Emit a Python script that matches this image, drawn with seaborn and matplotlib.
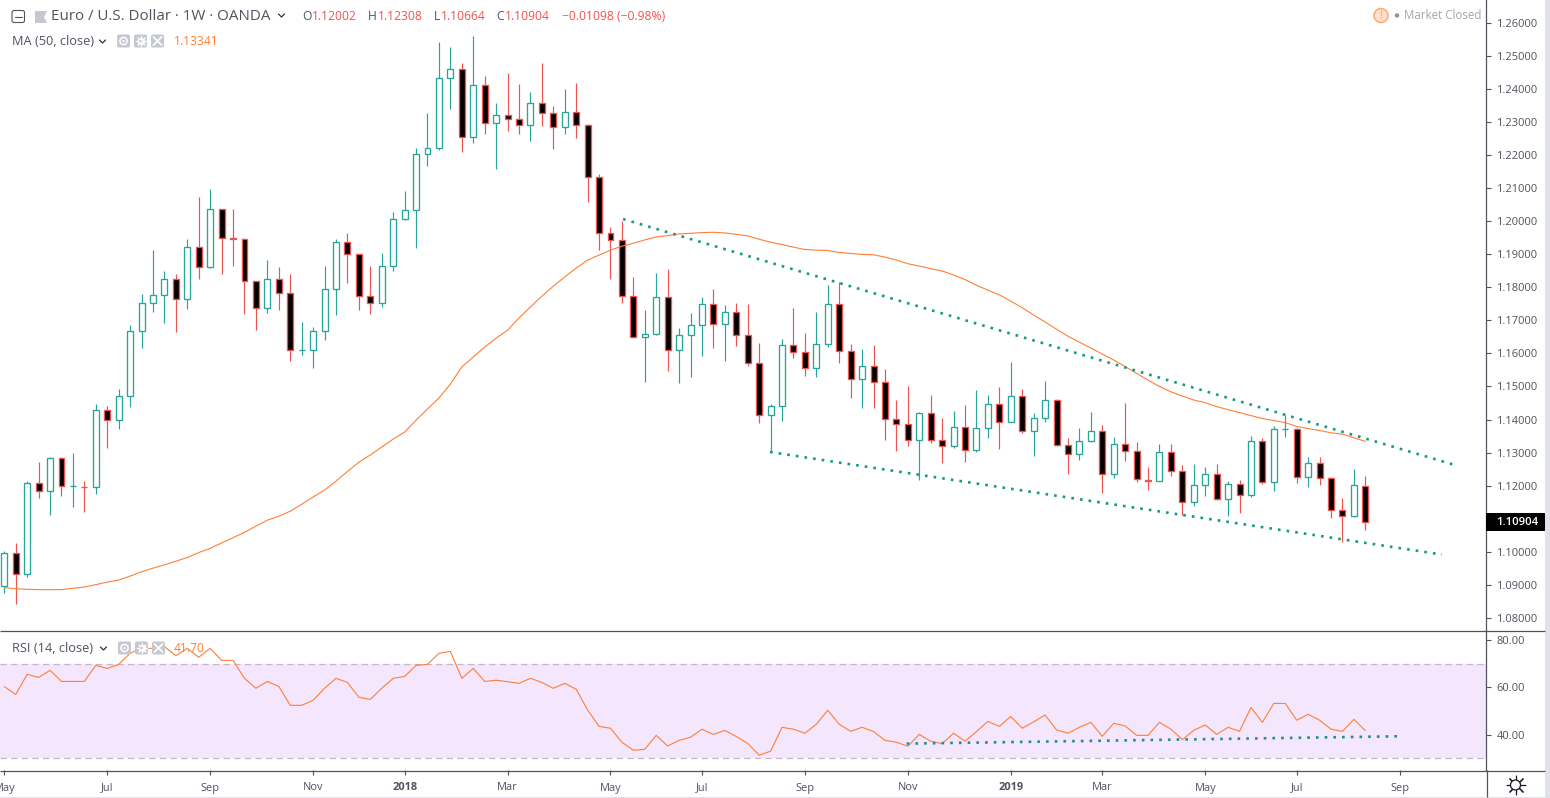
import matplotlib
matplotlib.use("Agg")
import matplotlib.pyplot as plt
from matplotlib.patches import Rectangle, FancyBboxPatch, Circle
import pandas as pd
import seaborn as sns

# weekly EUR/USD candles
opens = [1.0896, 1.0998, 1.0932, 1.1207, 1.1183, 1.1283, 1.1198, 1.1197, 1.1195, 1.1428,
         1.1400, 1.1470, 1.1667, 1.1751, 1.1775, 1.1824, 1.1763, 1.1923, 1.1860, 1.2035,
         1.1948, 1.1947, 1.1818, 1.1736, 1.1824, 1.1784, 1.1609, 1.1610, 1.1667, 1.1796,
         1.1936, 1.1899, 1.1772, 1.1751, 1.1863, 1.2005, 1.2032, 1.2202, 1.2220, 1.2431,
         1.2459, 1.2253, 1.2410, 1.2295, 1.2319, 1.2307, 1.2289, 1.2356, 1.2325, 1.2283,
         1.2331, 1.2289, 1.2132, 1.1963, 1.1942, 1.1772, 1.1649, 1.1660, 1.1769, 1.1609,
         1.1657, 1.1685, 1.1748, 1.1688, 1.1724, 1.1657, 1.1570, 1.1413, 1.1440, 1.1624,
         1.1603, 1.1555, 1.1627, 1.1748, 1.1606, 1.1524, 1.1561, 1.1515, 1.1403, 1.1388,
         1.1337, 1.1419, 1.1337, 1.1319, 1.1379, 1.1307, 1.1373, 1.1446, 1.1394, 1.1470,
         1.1364, 1.1406, 1.1458, 1.1322, 1.1295, 1.1334, 1.1364, 1.1234, 1.1325, 1.1304,
         1.1218, 1.1215, 1.1301, 1.1246, 1.1150, 1.1201, 1.1234, 1.1159, 1.1204, 1.1171,
         1.1334, 1.1210, 1.1370, 1.1372, 1.1225, 1.1270, 1.1222, 1.1128, 1.1110, 1.12002]
highs = [1.1002, 1.1027, 1.1213, 1.1271, 1.1287, 1.1287, 1.1299, 1.1214, 1.1447, 1.1441,
         1.1492, 1.1686, 1.1779, 1.1912, 1.1849, 1.1840, 1.1945, 1.2072, 1.2097, 1.2036,
         1.2036, 1.1948, 1.1819, 1.1882, 1.1861, 1.1840, 1.1695, 1.1680, 1.1864, 1.1945,
         1.1964, 1.1900, 1.1864, 1.1903, 1.2027, 1.2091, 1.2221, 1.2326, 1.2541, 1.2526,
         1.2478, 1.2559, 1.2438, 1.2357, 1.2447, 1.2414, 1.2390, 1.2478, 1.2348, 1.2399,
         1.2417, 1.2293, 1.2142, 1.1982, 1.2000, 1.1831, 1.1731, 1.1843, 1.1855, 1.1676,
         1.1722, 1.1770, 1.1794, 1.1746, 1.1752, 1.1749, 1.1631, 1.1447, 1.1643, 1.1737,
         1.1661, 1.1725, 1.1806, 1.1816, 1.1628, 1.1613, 1.1625, 1.1552, 1.1459, 1.1501,
         1.1422, 1.1474, 1.1404, 1.1425, 1.1444, 1.1489, 1.1474, 1.1498, 1.1574, 1.1492,
         1.1419, 1.1516, 1.1462, 1.1344, 1.1374, 1.1422, 1.1383, 1.1347, 1.1450, 1.1332,
         1.1256, 1.1326, 1.1326, 1.1262, 1.1265, 1.1256, 1.1265, 1.1214, 1.1217, 1.1350,
         1.1344, 1.1380, 1.1413, 1.1373, 1.1287, 1.1287, 1.1226, 1.1163, 1.1250, 1.12308]
lows = [1.0875, 1.0842, 1.0925, 1.1163, 1.1111, 1.1169, 1.1135, 1.1120, 1.1175, 1.1314,
        1.1371, 1.1438, 1.1616, 1.1725, 1.1692, 1.1664, 1.1734, 1.1825, 1.1858, 1.1840,
        1.1864, 1.1719, 1.1670, 1.1722, 1.1731, 1.1577, 1.1595, 1.1556, 1.1640, 1.1716,
        1.1812, 1.1731, 1.1719, 1.1740, 1.1849, 1.2004, 1.1918, 1.2167, 1.2215, 1.2338,
        1.2208, 1.2236, 1.2263, 1.2157, 1.2272, 1.2263, 1.2242, 1.2287, 1.2218, 1.2263,
        1.2251, 1.2057, 1.1912, 1.1825, 1.1752, 1.1648, 1.1513, 1.1655, 1.1546, 1.1510,
        1.1528, 1.1592, 1.1616, 1.1577, 1.1622, 1.1562, 1.1389, 1.1302, 1.1395, 1.1586,
        1.1531, 1.1528, 1.1619, 1.1571, 1.1465, 1.1435, 1.1435, 1.1338, 1.1305, 1.1320,
        1.1217, 1.1329, 1.1268, 1.1314, 1.1271, 1.1302, 1.1344, 1.1311, 1.1393, 1.1359,
        1.1290, 1.1392, 1.1321, 1.1235, 1.1277, 1.1333, 1.1178, 1.1223, 1.1274, 1.1211,
        1.1187, 1.1214, 1.1229, 1.1111, 1.1138, 1.1169, 1.1157, 1.1108, 1.1117, 1.1166,
        1.1205, 1.1184, 1.1347, 1.1208, 1.1196, 1.1202, 1.1102, 1.1030, 1.1105, 1.10664]
closes = [1.0998, 1.0932, 1.1207, 1.1183, 1.1283, 1.1198, 1.1199, 1.1195, 1.1428, 1.1400,
          1.1470, 1.1667, 1.1751, 1.1775, 1.1824, 1.1763, 1.1923, 1.1860, 1.2035, 1.1948,
          1.1947, 1.1818, 1.1736, 1.1824, 1.1784, 1.1609, 1.1610, 1.1667, 1.1796, 1.1936,
          1.1899, 1.1772, 1.1751, 1.1863, 1.2005, 1.2032, 1.2202, 1.2220, 1.2431, 1.2459,
          1.2253, 1.2410, 1.2295, 1.2319, 1.2307, 1.2289, 1.2356, 1.2325, 1.2283, 1.2331,
          1.2289, 1.2132, 1.1963, 1.1942, 1.1772, 1.1649, 1.1660, 1.1769, 1.1609, 1.1657,
          1.1685, 1.1748, 1.1688, 1.1724, 1.1657, 1.1570, 1.1413, 1.1440, 1.1624, 1.1603,
          1.1555, 1.1627, 1.1748, 1.1606, 1.1524, 1.1561, 1.1515, 1.1403, 1.1388, 1.1337,
          1.1419, 1.1337, 1.1319, 1.1379, 1.1307, 1.1373, 1.1446, 1.1394, 1.1470, 1.1364,
          1.1406, 1.1458, 1.1322, 1.1295, 1.1334, 1.1364, 1.1234, 1.1325, 1.1304, 1.1219,
          1.1215, 1.1301, 1.1246, 1.1150, 1.1201, 1.1234, 1.1159, 1.1204, 1.1171, 1.1334,
          1.1210, 1.1370, 1.1372, 1.1225, 1.1270, 1.1222, 1.1128, 1.1110, 1.1201, 1.10904]

ma50 = [1.0892, 1.0889, 1.0887, 1.0886, 1.0886, 1.0886, 1.0890, 1.0894, 1.0901, 1.0909,
        1.0915, 1.0927, 1.0940, 1.0951, 1.0961, 1.0972, 1.0983, 1.0998, 1.1011, 1.1027,
        1.1043, 1.1059, 1.1078, 1.1096, 1.1108, 1.1123, 1.1144, 1.1166, 1.1187, 1.1214,
        1.1243, 1.1271, 1.1293, 1.1317, 1.1341, 1.1362, 1.1398, 1.1432, 1.1465, 1.1507,
        1.1559, 1.1589, 1.1619, 1.1646, 1.1670, 1.1707, 1.1740, 1.1773, 1.1803, 1.1831,
        1.1858, 1.1882, 1.1897, 1.1912, 1.1924, 1.1933, 1.1943, 1.1952, 1.1956, 1.1961,
        1.1963, 1.1965, 1.1966, 1.1964, 1.1960, 1.1955, 1.1945, 1.1936, 1.1929, 1.1921,
        1.1914, 1.1912, 1.1911, 1.1905, 1.1902, 1.1899, 1.1898, 1.1891, 1.1882, 1.1871,
        1.1864, 1.1856, 1.1849, 1.1837, 1.1823, 1.1806, 1.1791, 1.1777, 1.1758, 1.1738,
        1.1716, 1.1695, 1.1673, 1.1652, 1.1634, 1.1616, 1.1598, 1.1580, 1.1560, 1.1540,
        1.1519, 1.1500, 1.1484, 1.1471, 1.1459, 1.1451, 1.1439, 1.1430, 1.1421, 1.1412,
        1.1403, 1.1397, 1.1391, 1.1379, 1.1373, 1.1367, 1.1360, 1.1356, 1.1345, 1.13341]

rsi14 = [60.3, 57.0, 65.5, 64.2, 67.2, 62.5, 62.5, 62.5, 69.3, 68.0,
         69.7, 74.4, 76.5, 76.5, 77.2, 73.4, 76.5, 72.7, 76.5, 71.4,
         71.4, 63.8, 59.6, 62.5, 60.4, 52.4, 52.4, 54.5, 59.6, 63.8,
         62.1, 55.8, 54.9, 59.6, 63.8, 64.6, 69.3, 69.7, 74.4, 75.2,
         63.8, 68.0, 62.5, 63.0, 62.4, 61.7, 63.8, 62.1, 59.6, 61.7,
         59.2, 50.4, 43.5, 42.7, 36.8, 33.4, 33.8, 39.7, 35.2, 37.6,
         38.9, 42.3, 40.1, 41.8, 39.2, 36.3, 31.3, 33.0, 43.1, 42.3,
         40.6, 44.4, 50.3, 44.4, 41.4, 43.1, 41.3, 37.6, 36.8, 35.1,
         40.1, 37.2, 36.2, 40.6, 37.2, 41.3, 45.6, 43.5, 47.7, 42.7,
         45.4, 48.3, 42.0, 40.6, 43.1, 45.2, 39.3, 44.8, 43.7, 39.7,
         39.7, 45.2, 42.3, 37.9, 41.8, 44.1, 40.1, 43.1, 41.4, 51.5,
         45.2, 53.2, 53.2, 46.1, 48.6, 46.1, 42.3, 41.4, 46.5, 41.7]

# hand drawn trend lines (bar index, value)
upper_x, upper_y = [54.1, 126.9], [1.2006, 1.1262]
lower_x, lower_y = [66.95, 125.7], [1.1302, 1.0992]
rsi_x, rsi_y = [78.9, 121.8], [36.2, 39.3]

date_ticks = [0, 9, 18, 27, 35, 44, 53, 61, 70, 79, 88, 96, 105, 113, 122]
date_labels = ["May", "Jul", "Sep", "Nov", "2018", "Mar", "May", "Jul", "Sep", "Nov", "2019", "Mar", "May", "Jul", "Sep"]
price_ticks = [1.08, 1.09, 1.10, 1.11, 1.12, 1.13, 1.14, 1.15, 1.16, 1.17, 1.18, 1.19,
               1.20, 1.21, 1.22, 1.23, 1.24, 1.25, 1.26]
rsi_ticks = [40, 60, 80]

GREEN = "#26A69A"
RED = "#EF5350"
DOT = "#149A85"
ORANGE = "#FF7F35"
TEXT = "#50535E"
LINE = "#50535E"
ICON = "#C5C8D0"

sns.set_theme(style="white")
plt.rcParams["font.family"] = ["Open Sans", "DejaVu Sans"]

df = pd.DataFrame({"bar": range(len(closes)), "open": opens, "high": highs,
                   "low": lows, "close": closes, "ma": ma50, "rsi": rsi14})
df["up"] = df["close"] >= df["open"]

W, H = 1550, 798
fig = plt.figure(figsize=(W / 100, H / 100), dpi=100, facecolor="white")
ax = fig.add_axes([0, 1 - 631 / H, 1486 / W, 631 / H])
ax_rsi = fig.add_axes([0, 1 - 770 / H, 1486 / W, 138 / H], sharex=ax)

# candles
edge = [GREEN if u else RED for u in df["up"]]
face = ["white" if u else "black" for u in df["up"]]
wicks = ax.vlines(df["bar"], df["low"], df["high"], colors=edge, linewidth=0.85, zorder=2)
wicks.set_snap(True)
ax.bar(df["bar"], (df["close"] - df["open"]).abs(), bottom=df[["open", "close"]].min(axis=1),
       width=0.52, color=face, edgecolor=edge, linewidth=0.95, zorder=3)

sns.lineplot(data=df, x="bar", y="ma", ax=ax, color=ORANGE, linewidth=0.8, zorder=4)
for xs, ys in [(upper_x, upper_y), (lower_x, lower_y)]:
    ax.plot(xs, ys, color=DOT, linewidth=1.9, linestyle=(0, (1, 2.3)), zorder=5)

ax.set_xlim(-0.376, 129.55)
ax.set_ylim(1.0761, 1.2668)
ax.set_yticks(price_ticks)
ax.set_yticklabels([f"{p:.5f}" for p in price_ticks])
ax.yaxis.tick_right()
ax.tick_params(axis="y", length=3.5, width=0.8, color=LINE, labelcolor=TEXT, labelsize=8.0, pad=4, right=True)
ax.tick_params(axis="x", bottom=False, labelbottom=False)
ax.set_xlabel("")
ax.set_ylabel("")

# last price tag
ax.add_patch(Rectangle((1, closes[-1] - 0.0027), 60 / 1486, 0.0053, transform=ax.get_yaxis_transform(),
                       facecolor="black", edgecolor="none", clip_on=False, zorder=10))
ax.text(1 + 10 / 1486, closes[-1], f"{closes[-1]:.5f}", transform=ax.get_yaxis_transform(), color="white",
        fontsize=8.2, fontweight="semibold", ha="left", va="center", clip_on=False, zorder=11)

# RSI pane
ax_rsi.axhspan(30, 70, color="#F4E6FC", linewidth=0, zorder=0)
ax_rsi.axhline(70, color="#C2B6C8", linewidth=0.9, linestyle=(0, (5, 3.5)), zorder=1)
ax_rsi.axhline(30, color="#C2B6C8", linewidth=0.9, linestyle=(0, (5, 3.5)), zorder=1)
sns.lineplot(data=df, x="bar", y="rsi", ax=ax_rsi, color=ORANGE, linewidth=0.8, zorder=3)
ax_rsi.plot(rsi_x, rsi_y, color="#1F8F8C", linewidth=1.9, linestyle=(0, (1, 2.3)), zorder=4)
ax_rsi.set_ylim(25.05, 83.4)
ax_rsi.set_yticks(rsi_ticks)
ax_rsi.set_yticklabels([f"{v:.2f}" for v in rsi_ticks])
ax_rsi.yaxis.tick_right()
ax_rsi.tick_params(axis="y", length=3.5, width=0.8, color=LINE, labelcolor=TEXT, labelsize=8.0, pad=4, right=True)
ax_rsi.set_xticks(date_ticks)
ax_rsi.set_xticklabels(date_labels)
ax_rsi.tick_params(axis="x", length=3.5, width=0.8, color=LINE, labelcolor=TEXT, labelsize=7.9, pad=5.5, bottom=True)
for lab in ax_rsi.get_xticklabels():
    if lab.get_text().startswith("20"):
        lab.set_fontweight("bold")
ax_rsi.set_xlabel("")
ax_rsi.set_ylabel("")

for a in (ax, ax_rsi):
    a.set_facecolor("white")
    for s in ("top", "left", "bottom"):
        a.spines[s].set_visible(False)
    a.spines["right"].set_color(LINE)
    a.spines["right"].set_linewidth(0.9)
    a.spines["right"].set_visible(True)

# chart chrome in pixel coordinates
top = fig.add_axes([0, 0, 1, 1], zorder=20)
top.set_xlim(0, W)
top.set_ylim(H, 0)
top.axis("off")
top.patch.set_alpha(0)

top.add_patch(Rectangle((1545, 0), 5, H, facecolor="#E0E3EB", edgecolor="none"))
top.add_patch(Rectangle((0, 797), W, 1, facecolor="#E0E3EB", edgecolor="none"))
top.hlines([631, 770.5], 0, 1545, color=LINE, linewidth=0.9)
top.vlines(1486.5, 770, 797, color=LINE, linewidth=0.9)


def label(x, y, s, color=TEXT, size=8.6, **kw):
    top.text(x, y, s, color=color, fontsize=size, ha="left", va="center", **kw)


def caret(x, y):
    top.plot([x - 3, x, x + 3], [y - 1.5, y + 1.5, y - 1.5], color="#2A2E39", linewidth=0.9)


def legend_icons(x, y):
    for i, dx in enumerate([0, 17, 34]):
        top.add_patch(FancyBboxPatch((x + dx + 1, y - 5.5), 11, 11, boxstyle="round,pad=1,rounding_size=2",
                                     facecolor=ICON, edgecolor="none"))
        cx, cy = x + dx + 6.5, y
        if i == 0:
            top.add_patch(Circle((cx, cy), 3.6, facecolor="none", edgecolor="white", linewidth=1.1, zorder=3))
            top.add_patch(Circle((cx, cy), 1.2, facecolor="white", edgecolor="none", zorder=3))
        elif i == 1:
            top.plot([cx], [cy], marker=(8, 1, 0), color="white", markersize=9, markeredgewidth=0, zorder=3)
            top.add_patch(Circle((cx, cy), 1.3, facecolor=ICON, edgecolor="none", zorder=4))
        else:
            top.plot([cx - 4, cx + 4], [cy - 4, cy + 4], color="white", linewidth=1.3, zorder=3)
            top.plot([cx - 4, cx + 4], [cy + 4, cy - 4], color="white", linewidth=1.3, zorder=3)


# header row
top.add_patch(FancyBboxPatch((12.5, 11), 11.5, 11, boxstyle="round,pad=0.5,rounding_size=2",
                             facecolor="white", edgecolor="#50535E", linewidth=0.8))
top.plot([15, 22], [16.7, 16.7], color="#50535E", linewidth=0.8)
top.fill([35, 47, 44, 47, 35], [11, 11, 17, 23, 23], color=ICON, linewidth=0)
label(51, 16.5, "Euro / U.S. Dollar · 1W · OANDA", size=10.9)
caret(281.5, 15.5)
for x, s in [(302, "O"), (368, "H"), (433.5, "L"), (496, "C")]:
    label(x, 17, s, size=8.7)
for x, s in [(312, "1.12002"), (378, "1.12308"), (441, "1.10664"), (505, "1.10904"),
             (562, "\u22120.01098 (\u22120.98%)")]:
    label(x, 17, s, color=RED, size=8.7)

# indicator legends
label(12, 41.5, "MA (50, close)", size=9.2)
caret(102.5, 41.5)
legend_icons(117, 41)
label(174, 41.5, "1.13341", color=ORANGE, size=8.7)
label(12, 648.5, "RSI (14, close)", size=9.2)
caret(103.5, 648.5)
legend_icons(118, 648)
label(174, 648.5, "41.70", color=ORANGE, size=8.7)

# market status
top.add_patch(Circle((1381, 15.5), 7, facecolor="#FFE0C8", edgecolor="#FFA970", linewidth=1.1))
top.text(1381, 15.5, "!", color="#FFA970", fontsize=8, ha="center", va="center")
top.add_patch(Circle((1397, 15.5), 2.2, facecolor="#8F929B", edgecolor="none"))
label(1404, 15.5, "Market Closed", color="#A3A6AF", size=8.3)

# settings icon
top.plot([1515.5], [785], marker=(8, 2, 0), color="#131722", markersize=14, markeredgewidth=0.8, zorder=3)
top.add_patch(Circle((1515.5, 785), 5, facecolor="white", edgecolor="#131722", linewidth=0.9, zorder=4))

fig.savefig("out.png", dpi=100)
